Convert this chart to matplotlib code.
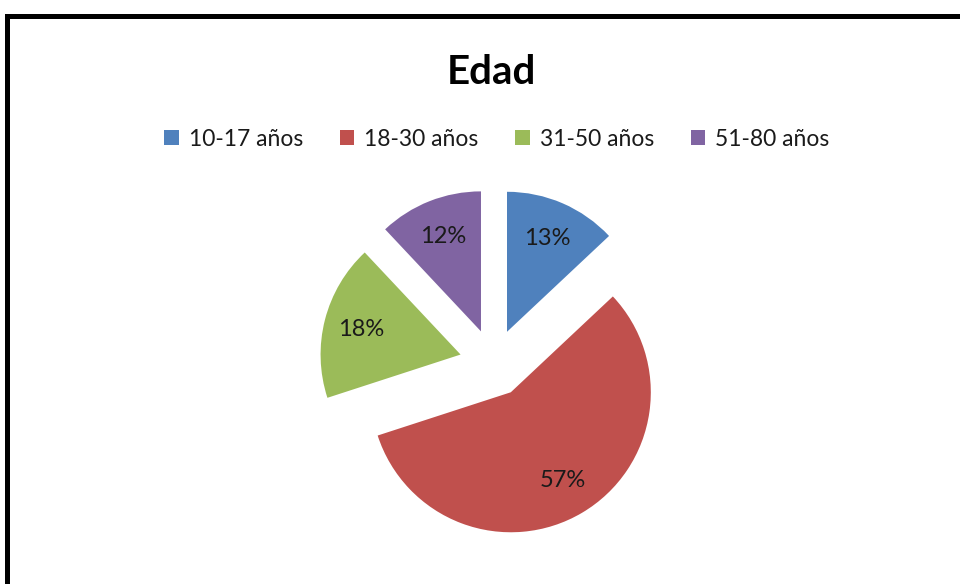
import matplotlib
matplotlib.use("Agg")
import matplotlib.pyplot as plt
from matplotlib.patches import Rectangle

title = "Edad"
categories = ["10-17 años", "18-30 años", "31-50 años", "51-80 años"]
values = [13, 57, 18, 12]
colors = ["#4F81BD", "#C0504D", "#9BBB59", "#8064A2"]

plt.rcParams['font.family'] = ['Lato', 'DejaVu Sans']

W, H = 960, 584
R = 140
fig = plt.figure(figsize=(W / 100, H / 100), dpi=100)
ax = fig.add_axes([0, 0, 1, 1])

# explode is an absolute offset in data units (pixels here)
wedges, texts, autotexts = ax.pie(
    values, colors=colors, startangle=90, counterclock=False,
    explode=[34] * len(values), center=(493.5, H - 363), radius=R,
    autopct=lambda p: f"{p:.0f}%", pctdistance=0.73,
    textprops=dict(fontsize=17, color="#1a1a1a"),
    wedgeprops=dict(linewidth=0))

ax.set_xlim(0, W)
ax.set_ylim(0, H)
ax.set_aspect('equal')
ax.axis('off')

ax.text(491.5, H - 84, title, ha='center', va='baseline',
        fontsize=29, fontweight='bold', color='black')

leg = ax.legend(wedges, categories, loc='center',
                bbox_to_anchor=(497 / W, 1 - 139 / H), ncol=4,
                frameon=False, fontsize=16.5, handlelength=0.62,
                handleheight=0.62, handletextpad=0.45, columnspacing=1.6,
                labelcolor='#1a1a1a')

# outer chart border (cut by the image edges)
fig.patches.append(Rectangle((6.5, -20), W + 40, H - 15.5 + 20,
                             transform=None, fill=False, edgecolor='black',
                             linewidth=3.6, figure=fig))

fig.savefig("out.png", dpi=100, facecolor='white')
